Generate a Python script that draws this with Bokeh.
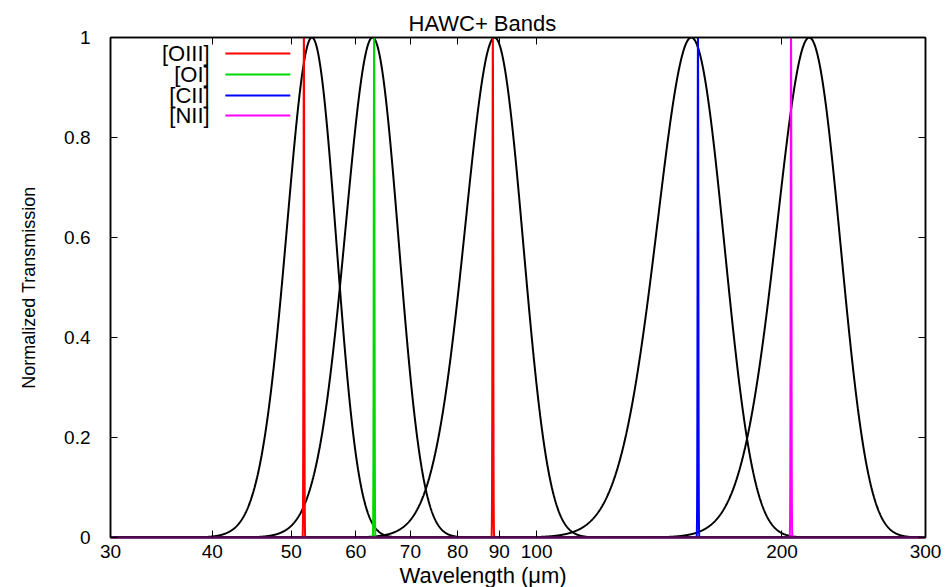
import numpy as np
from bokeh.plotting import figure
from bokeh.models import (FixedTicker, LinearAxis, LogAxis, Label, Range1d, Title,
                          PrintfTickFormatter, CustomJSTickFormatter)
from bokeh.embed import file_html
from bokeh.resources import INLINE

# ---- data ----
band_centers = [53.0, 62.9, 88.8, 154.8, 216.0]     # micron
band_fwhm = [8.7, 11.1, 17.1, 34.5, 45.5]           # micron
line_names = ["[OIII]", "[OI]", "[CII]", "[NII]"]
line_colors = ["#ff0000", "#00d800", "#0000ff", "#ff00ff"]
line_waves = [[51.81, 88.36], [63.18], [157.74], [205.18]]
line_rel_fwhm = 0.0025
x_ticks = [30, 40, 50, 60, 70, 80, 90, 100, 200, 300]
y_ticks = [0, 0.2, 0.4, 0.6, 0.8, 1.0]

FONT = "Liberation Sans"

p = figure(width=951, height=587, x_axis_type="log",
           x_range=Range1d(30, 300), y_range=Range1d(0, 1),
           output_backend="svg", toolbar_location=None,
           min_border_left=110, min_border_right=26,
           min_border_top=37, min_border_bottom=50)
p.grid.visible = False
p.outline_line_color = "black"
p.outline_line_width = 1.5

# band filter curves
wl = np.geomspace(30, 300, 3000)
for c, fw in zip(band_centers, band_fwhm):
    s = fw / 2.3548
    p.line(wl, np.exp(-0.5 * ((wl - c) / s) ** 2), line_color="black", line_width=2)

# emission lines
for name, col, waves in zip(line_names, line_colors, line_waves):
    for w in waves:
        s = w * line_rel_fwhm / 2.3548
        xx = np.linspace(w - 5 * s, w + 5 * s, 200)
        p.line(xx, np.exp(-0.5 * ((xx - w) / s) ** 2), line_color=col, line_width=2)

# axes styling
def style_axis(ax, show_labels):
    ax.major_tick_in = 7
    ax.major_tick_out = 0
    ax.minor_tick_in = 0
    ax.minor_tick_out = 0
    ax.axis_line_color = "black"
    ax.axis_line_width = 1.5
    ax.major_tick_line_color = "black"
    ax.major_tick_line_width = 1
    ax.major_label_text_font = FONT
    ax.major_label_text_color = "black"
    if not show_labels:
        ax.formatter = CustomJSTickFormatter(code="return '';")
        ax.major_label_standoff = 0
        ax.major_label_text_font_size = "1px"

xa = p.xaxis[0]
xa.ticker = FixedTicker(ticks=x_ticks, minor_ticks=[])
xa.formatter = PrintfTickFormatter(format="%d")
style_axis(xa, True)
xa.major_label_text_font_size = "19px"
xa.major_label_standoff = 7
xa.axis_line_color = "#5a0a5a"
xa.axis_line_width = 2.5

ya = p.yaxis[0]
ya.ticker = FixedTicker(ticks=y_ticks, minor_ticks=[])
ya.formatter = CustomJSTickFormatter(code="return String(Math.round(tick*10)/10);")
style_axis(ya, True)
ya.major_label_text_font_size = "19px"
ya.major_label_standoff = 20
ya.axis_label = "Normalized Transmission"
ya.axis_label_text_font = FONT
ya.axis_label_text_font_style = "normal"
ya.axis_label_text_font_size = "18px"
ya.axis_label_text_color = "black"
ya.axis_label_standoff = 22

ra = LinearAxis(ticker=FixedTicker(ticks=y_ticks, minor_ticks=[]))
style_axis(ra, False)
p.add_layout(ra, "right")
ta = LogAxis(ticker=FixedTicker(ticks=x_ticks, minor_ticks=[]))
style_axis(ta, False)
p.add_layout(ta, "above")

# title (left-aligned with an offset so that it sits where the reference has it)
p.title.text = "HAWC+ Bands"
p.title.text_font = FONT
p.title.text_font_size = "22px"
p.title.text_font_style = "normal"
p.title.text_color = "black"
p.title.align = "left"
p.title.offset = 298
p.title.standoff = 2
p.title.vertical_align = "middle"

# x axis label as a second title below the axis
p.add_layout(Title(text="Wavelength (μm)", text_font=FONT, text_font_size="22px",
                   text_font_style="normal", text_color="black",
                   align="left", offset=289, standoff=0), "below")

# legend (label right-aligned, sample line to the right)
leg_y = [0.968, 0.926, 0.884, 0.844]
for name, col, yy in zip(line_names, line_colors, leg_y):
    p.add_layout(Label(x=39.7, y=yy, text=name, text_font=FONT, text_font_size="22px",
                       text_align="right", text_baseline="middle", text_color="black"))
    p.segment(x0=[41.5], x1=[49.86], y0=[yy], y1=[yy], line_color=col, line_width=2)

open("out.html", "w").write(file_html(p, INLINE))
